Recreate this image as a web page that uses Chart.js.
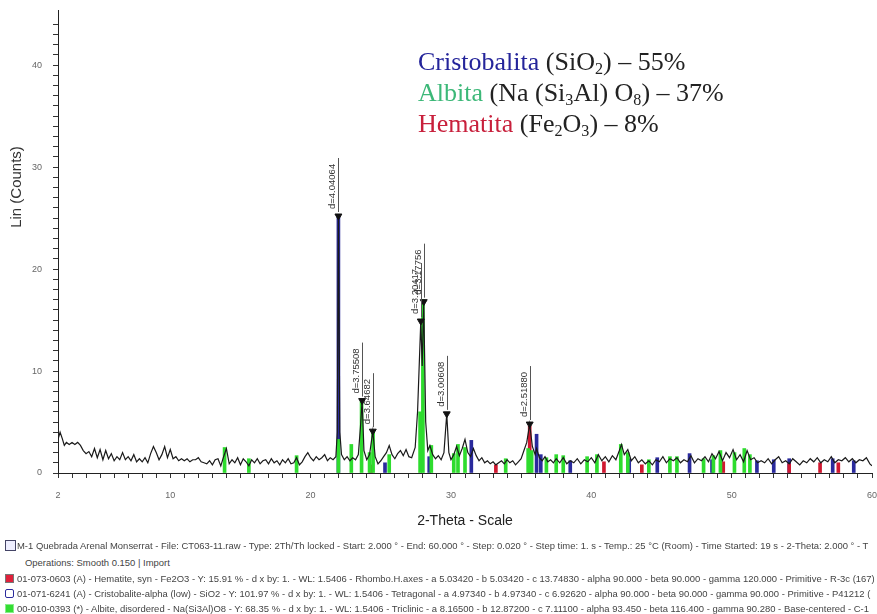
<!DOCTYPE html>
<html>
<head>
<meta charset="utf-8">
<script src="https://cdn.jsdelivr.net/npm/chart.js@4"></script>
<style>
body { margin: 0; background: #fff; }
#wrap { position: relative; width: 877px; height: 614px; overflow: hidden; font-family: "Liberation Sans", Arial, sans-serif; }
#chart { position: absolute; left: 0; top: 0; }
.ytitle { position: absolute; left: 15px; top: 187px; transform: translate(-50%, -50%) rotate(-90deg); font-size: 15px; color: #333; white-space: nowrap; }
.phases { position: absolute; left: 418px; top: 46px; font-family: "Liberation Serif", "Times New Roman", serif; font-size: 26px; line-height: 31px; color: #222; white-space: nowrap; }
.phases sub { font-size: 0.62em; vertical-align: -0.22em; line-height: 0; }
.foot { position: absolute; left: 17px; font-size: 9px; line-height: 11px; color: #444; white-space: nowrap; transform-origin: 0 50%; }
.ic { position: absolute; left: 5px; width: 7px; height: 7px; border: 1px solid #777; }
</style>
</head>
<body>
<div id="wrap">
  <canvas id="chart" width="877" height="530"></canvas>
  <div class="ytitle">Lin (Counts)</div>
  <div class="phases">
    <div><span style="color:#24249a">Cristobalita</span> (SiO<sub>2</sub>) – 55%</div>
    <div><span style="color:#3cb878">Albita</span> (Na (Si<sub>3</sub>Al) O<sub>8</sub>) – 37%</div>
    <div><span style="color:#c8203c">Hematita</span> (Fe<sub>2</sub>O<sub>3</sub>) – 8%</div>
  </div>
  <div class="ic" style="top:540px;width:9px;height:9px;background:#eef;border-color:#446"></div>
  <div class="foot" style="top:541px">M-1 Quebrada Arenal Monserrat - File: CT063-11.raw - Type: 2Th/Th locked - Start: 2.000 ° - End: 60.000 ° - Step: 0.020 ° - Step time: 1. s - Temp.: 25 °C (Room) - Time Started: 19 s - 2-Theta: 2.000 ° - T</div>
  <div class="foot" style="top:558px;left:25px">Operations: Smooth 0.150 | Import</div>
  <div class="ic" style="top:574px;background:#e0203a"></div>
  <div class="foot" style="top:574px">01-073-0603 (A) - Hematite, syn - Fe2O3 - Y: 15.91 % - d x by: 1. - WL: 1.5406 - Rhombo.H.axes - a 5.03420 - b 5.03420 - c 13.74830 - alpha 90.000 - beta 90.000 - gamma 120.000 - Primitive - R-3c (167)</div>
  <div class="ic" style="top:589px;background:#fff;border-color:#2a2a9c;border-radius:2px"></div>
  <div class="foot" style="top:589px">01-071-6241 (A) - Cristobalite-alpha (low) - SiO2 - Y: 101.97 % - d x by: 1. - WL: 1.5406 - Tetragonal - a 4.97340 - b 4.97340 - c 6.92620 - alpha 90.000 - beta 90.000 - gamma 90.000 - Primitive - P41212 (</div>
  <div class="ic" style="top:604px;background:#33dd33;border-color:#8e8"></div>
  <div class="foot" style="top:604px">00-010-0393 (*) - Albite, disordered - Na(Si3Al)O8 - Y: 68.35 % - d x by: 1. - WL: 1.5406 - Triclinic - a 8.16500 - b 12.87200 - c 7.11100 - alpha 93.450 - beta 116.400 - gamma 90.280 - Base-centered - C-1</div>
</div>
<script>
const traceTheta = [
  2.00, 2.15, 2.30, 2.45, 2.60, 2.80, 3.00, 3.20, 3.40, 3.60,
  3.80, 4.00, 4.20, 4.40, 4.60, 4.80, 5.00, 5.20, 5.40, 5.60,
  5.80, 6.00, 6.20, 6.40, 6.60, 6.80, 7.00, 7.20, 7.40, 7.60,
  7.80, 8.00, 8.20, 8.40, 8.60, 8.80, 9.00, 9.20, 9.40, 9.60,
  9.80, 10.00, 10.20, 10.40, 10.60, 10.80, 11.00, 11.20, 11.40, 11.60,
  11.80, 12.00, 12.20, 12.40, 12.60, 12.80, 13.00, 13.20, 13.40, 13.60,
  13.80, 14.00, 14.20, 14.40, 14.60, 14.80, 15.00, 15.20, 15.40, 15.60,
  15.80, 16.00, 16.20, 16.40, 16.60, 16.80, 17.00, 17.20, 17.40, 17.60,
  17.80, 18.00, 18.20, 18.40, 18.60, 18.80, 19.00, 19.20, 19.40, 19.60,
  19.80, 20.00, 20.20, 20.40, 20.60, 20.80, 21.00, 21.20, 21.40, 21.60,
  21.80, 21.90, 21.98, 22.08, 22.20, 22.40, 22.60, 22.80, 23.00, 23.20,
  23.40, 23.55, 23.67, 23.80, 24.00, 24.20, 24.43, 24.60, 24.80, 25.00,
  25.20, 25.40, 25.60, 25.80, 26.00, 26.20, 26.40, 26.60, 26.80, 27.00,
  27.20, 27.45, 27.62, 27.85, 27.95, 28.06, 28.20, 28.35, 28.50, 28.70,
  28.90, 29.10, 29.30, 29.50, 29.70, 29.85, 30.00, 30.20, 30.40, 30.60,
  30.80, 31.00, 31.20, 31.40, 31.60, 31.80, 32.00, 32.20, 32.40, 32.60,
  32.80, 33.00, 33.20, 33.40, 33.60, 33.80, 34.00, 34.20, 34.40, 34.60,
  34.80, 35.00, 35.20, 35.40, 35.61, 35.80, 36.00, 36.10, 36.30, 36.50,
  36.70, 36.90, 37.10, 37.30, 37.50, 37.75, 38.00, 38.25, 38.50, 38.75,
  39.00, 39.25, 39.50, 39.75, 40.00, 40.25, 40.50, 40.75, 41.00, 41.25,
  41.50, 41.75, 42.00, 42.15, 42.35, 42.60, 42.85, 43.10, 43.35, 43.60,
  43.85, 44.10, 44.35, 44.60, 44.85, 45.10, 45.35, 45.60, 45.85, 46.10,
  46.35, 46.60, 46.85, 47.10, 47.35, 47.60, 47.85, 48.10, 48.35, 48.60,
  48.85, 49.10, 49.35, 49.60, 49.85, 50.10, 50.35, 50.60, 50.85, 51.10,
  51.35, 51.60, 51.85, 52.10, 52.35, 52.60, 52.85, 53.10, 53.35, 53.60,
  53.85, 54.10, 54.35, 54.60, 54.85, 55.10, 55.35, 55.60, 55.85, 56.10,
  56.35, 56.60, 56.85, 57.10, 57.35, 57.60, 57.85, 58.10, 58.35, 58.60,
  58.85, 59.10, 59.35, 59.60, 59.85, 60.00
];
const traceCounts = [
  3.3, 4.0, 3.4, 2.7, 3.0, 2.8, 3.0, 2.8, 3.0, 2.7,
  2.2, 1.9, 2.1, 1.6, 2.4, 1.5, 2.3, 1.3, 2.2, 1.4,
  1.9, 1.2, 1.6, 1.3, 2.0, 1.3, 1.6, 1.2, 1.8, 1.1,
  1.4, 1.1, 1.5, 1.0, 1.9, 2.6, 2.0, 1.3, 1.8, 2.6,
  1.5, 2.3, 1.4, 1.6, 1.2, 1.4, 1.2, 1.4, 1.1, 1.3,
  1.3, 1.5, 1.1, 1.0, 0.9, 1.2, 0.8, 1.3, 1.4, 0.7,
  1.6, 2.4, 0.9, 1.3, 1.0, 1.5, 0.8, 1.4, 1.1, 0.7,
  1.3, 1.0, 1.4, 0.9, 1.2, 1.3, 0.9, 1.4, 1.0, 1.2,
  0.8, 1.3, 1.0, 1.4, 0.9, 1.0, 1.5, 0.8, 1.1, 1.6,
  2.0, 1.5, 1.2, 1.6, 1.3, 1.5, 1.8, 1.2, 1.5, 1.3,
  1.6, 4.0, 25.2, 4.0, 1.8, 1.3, 1.6, 1.2, 1.5, 1.3,
  1.8, 4.5, 7.1, 2.2, 1.3, 1.8, 4.1, 1.6, 0.9, 1.2,
  1.6, 2.0, 2.7, 1.8, 1.4, 1.9, 2.2, 1.7, 2.3, 1.6,
  1.5, 2.5, 6.0, 14.9, 10.5, 16.8, 5.0, 2.2, 2.7, 1.8,
  1.4, 1.7, 1.3, 2.0, 5.8, 2.0, 1.3, 1.8, 2.6, 1.7,
  2.4, 3.3, 2.0, 1.6, 2.4, 1.7, 1.2, 1.5, 1.0, 1.2,
  0.9, 1.1, 0.8, 1.0, 1.2, 0.9, 1.3, 1.0, 1.2, 0.8,
  1.1, 1.4, 2.2, 3.0, 4.8, 2.6, 1.8, 2.4, 1.5, 1.2,
  1.6, 1.1, 1.3, 1.0, 1.4, 1.0, 1.5, 0.9, 1.2, 1.0,
  1.4, 0.9, 1.3, 1.1, 1.5, 1.0, 1.8, 1.2, 1.6, 1.1,
  1.7, 1.3, 2.2, 2.8, 1.8, 2.3, 1.2, 1.6, 1.0, 1.3,
  0.9, 1.2, 0.8, 1.3, 1.1, 1.6, 1.0, 1.4, 1.2, 1.5,
  1.0, 1.3, 1.1, 1.7, 1.0, 1.4, 1.2, 1.6, 1.1, 1.9,
  1.4, 2.1, 1.2, 2.0, 1.5, 2.3, 1.3, 1.8, 1.1, 2.2,
  1.3, 1.5, 1.0, 1.2, 1.0, 1.4, 0.9, 1.3, 1.6, 1.0,
  1.2, 0.9, 1.4, 1.1, 0.8, 1.2, 1.0, 1.4, 1.1, 1.5,
  1.0, 1.3, 1.1, 1.6, 1.0, 1.3, 1.2, 1.5, 1.1, 1.4,
  1.0, 1.3, 1.2, 1.5, 0.9, 0.7
];

// searched peaks
const peakTheta = [21.98, 23.67, 24.43, 27.85, 28.06, 29.70, 35.61];
const peakCounts = [25.2, 7.1, 4.1, 14.9, 16.8, 5.8, 4.8];
const peakLabels = ['d=4.04064', 'd=3.75508', 'd=3.64682', 'd=3.20417', 'd=3.17756', 'd=3.00608', 'd=2.51880'];

// reference stick patterns
const cristobaliteTheta = [21.98, 25.3, 28.45, 31.45, 36.1, 36.4, 38.5, 42.7, 44.7, 47.0, 48.6, 51.8, 53.0, 54.1, 57.2, 58.7];
const cristobaliteCounts = [25.2, 1.0, 1.6, 3.2, 3.8, 1.8, 1.2, 1.4, 1.5, 1.9, 1.3, 1.2, 1.3, 1.4, 1.4, 1.2];
const hematiteTheta = [24.3, 33.2, 35.61, 40.9, 43.6, 49.4, 54.1, 56.3, 57.6];
const hematiteCounts = [0.8, 0.8, 4.6, 1.1, 0.8, 1.1, 0.9, 1.0, 1.0];
const albiteTheta = [13.87, 15.6, 19.0, 21.98, 22.9, 23.63, 24.2, 24.45, 25.6, 27.8,
  28.0, 28.6, 30.2, 30.5, 31.0, 33.9, 35.5, 35.75, 36.8, 37.5,
  38.0, 39.7, 40.4, 42.1, 42.6, 44.1, 45.6, 46.1, 48.0, 48.7,
  49.2, 50.2, 50.9, 51.3];
const albiteCounts = [2.5, 1.4, 1.7, 3.3, 2.8, 7.0, 2.0, 4.0, 1.8, 6.0,
  17.0, 2.7, 1.9, 2.8, 2.5, 1.4, 2.4, 2.2, 1.5, 1.8,
  1.7, 1.6, 1.8, 2.8, 2.0, 1.3, 1.6, 1.6, 1.4, 1.7,
  2.2, 2.0, 2.4, 1.8];

const xTickLabels = [2, 10, 20, 30, 40, 50, 60];
const yTickLabels = [0, 10, 20, 30, 40];

const pts = (xs, ys) => xs.map((v, i) => ({ x: v, y: ys[i] }));

// d-spacing labels: leader line above each marker, rotated text beside it
const peakLabelPlugin = {
  id: 'peakLabels',
  afterDatasetsDraw(chart) {
    const { ctx, scales: { x, y } } = chart;
    ctx.save();
    ctx.strokeStyle = '#555';
    ctx.lineWidth = 1;
    ctx.fillStyle = '#333';
    ctx.font = '9.5px "Liberation Sans", Arial, sans-serif';
    peakTheta.forEach((t, i) => {
      const px = Math.round(x.getPixelForValue(t)) + 0.5;
      const py = y.getPixelForValue(peakCounts[i]);
      ctx.beginPath();
      ctx.moveTo(px, py - 4);
      ctx.lineTo(px, py - 58);
      ctx.stroke();
      ctx.save();
      ctx.translate(px - 1, py - 7);
      ctx.rotate(-Math.PI / 2);
      ctx.textAlign = 'left';
      ctx.textBaseline = 'bottom';
      ctx.fillText(peakLabels[i], 0, 0);
      ctx.restore();
    });
    ctx.restore();
  }
};

const tickFont = { family: '"Liberation Sans", Arial, sans-serif', size: 9 };

new Chart(document.getElementById('chart'), {
  type: 'line',
  data: {
    datasets: [{
      type: 'line',
      label: 'M-1 Quebrada Arenal Monserrat',
      data: pts(traceTheta, traceCounts),
      borderColor: '#1a1a1a',
      borderWidth: 1.2,
      pointRadius: 0,
      tension: 0,
      order: 1
    }, {
      type: 'line',
      label: 'peaks',
      data: pts(peakTheta, peakCounts),
      showLine: false,
      pointStyle: 'triangle',
      rotation: 180,
      pointRadius: 4,
      pointBackgroundColor: '#111',
      pointBorderColor: '#111',
      order: 0
    }, {
      type: 'bar',
      label: 'Cristobalite',
      data: pts(cristobaliteTheta, cristobaliteCounts),
      backgroundColor: '#2a2a9c',
      barThickness: 3,
      grouped: false,
      order: 4
    }, {
      type: 'bar',
      label: 'Hematite',
      data: pts(hematiteTheta, hematiteCounts),
      backgroundColor: '#d01830',
      barThickness: 3,
      grouped: false,
      order: 3
    }, {
      type: 'bar',
      label: 'Albite',
      data: pts(albiteTheta, albiteCounts),
      backgroundColor: '#2edc2e',
      barThickness: 3,
      grouped: false,
      order: 2
    }]
  },
  options: {
    responsive: false,
    animation: false,
    layout: { padding: { top: 10, left: 0, right: 0, bottom: 0 } },
    plugins: {
      legend: { display: false },
      tooltip: { enabled: false }
    },
    scales: {
      x: {
        type: 'linear',
        min: 2,
        max: 60,
        offset: false,
        grid: { display: true, drawOnChartArea: false, tickLength: 5, color: '#333', offset: false },
        border: { color: '#222' },
        ticks: {
          stepSize: 1,
          autoSkip: false,
          maxRotation: 0,
          padding: 12,
          color: '#666',
          font: tickFont,
          callback: v => xTickLabels.includes(v) ? String(v) : ''
        },
        afterFit: s => { s.height = 57; s.paddingLeft = 0; s.paddingRight = 4; },
        title: {
          display: true,
          text: '2-Theta - Scale',
          color: '#222',
          font: { family: '"Liberation Sans", Arial, sans-serif', size: 14 },
          padding: { top: 0, bottom: 0 }
        }
      },
      y: {
        type: 'linear',
        min: 0,
        max: 45.4,
        grid: { display: true, drawOnChartArea: false, tickLength: 5, color: '#333' },
        border: { color: '#222' },
        ticks: {
          stepSize: 1,
          autoSkip: false,
          padding: 11,
          color: '#666',
          font: tickFont,
          callback: v => yTickLabels.includes(v) ? String(v) : ''
        },
        afterBuildTicks: s => { s.ticks = s.ticks.filter(t => Number.isInteger(t.value)); },
        afterFit: s => { s.width = 58; s.paddingTop = 0; s.paddingBottom = 0; }
      }
    }
  },
  plugins: [peakLabelPlugin]
});

// squeeze the footer lines to the width they take in the export
const feet = document.querySelectorAll('.foot');
const k = 858 / feet[2].scrollWidth;
feet.forEach(el => { el.style.transform = 'scaleX(' + k + ')'; });
</script>
</body>
</html>
